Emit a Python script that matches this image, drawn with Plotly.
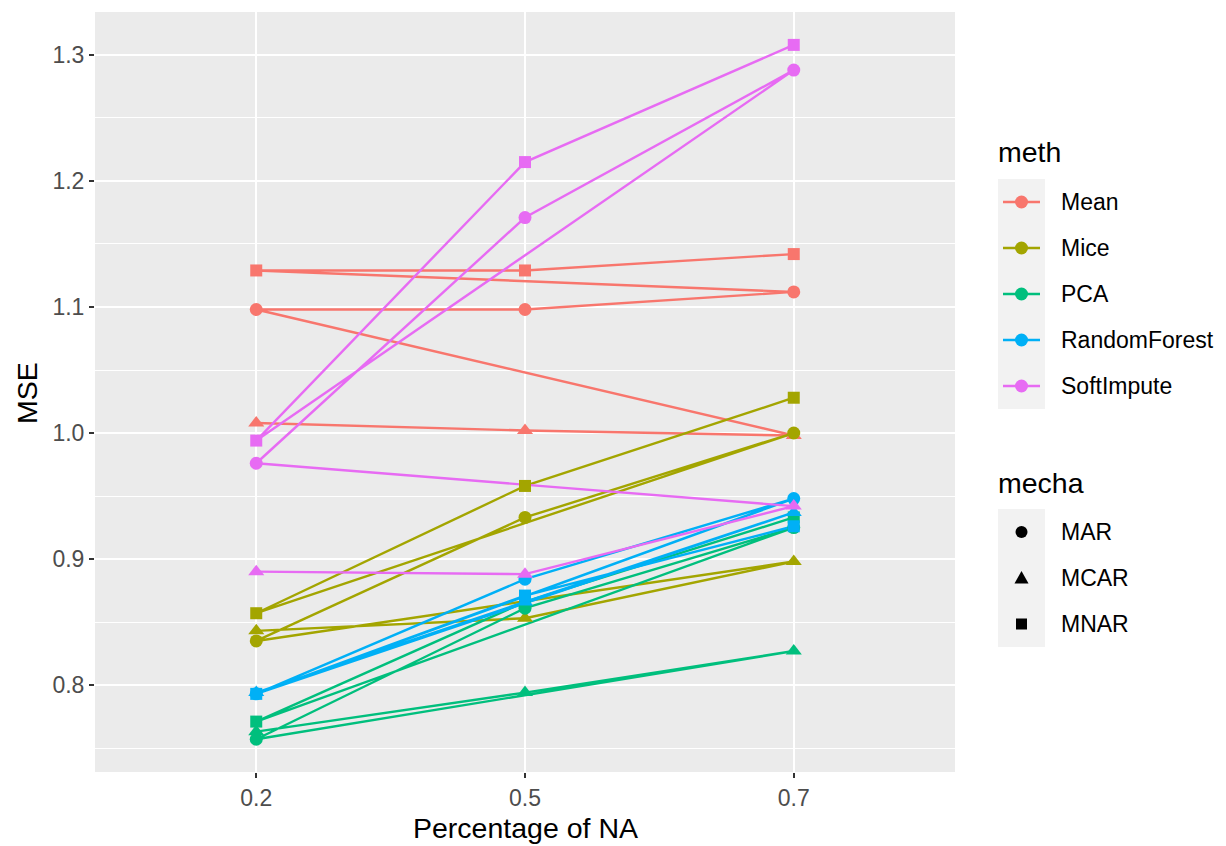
import plotly.graph_objects as go

# ---------------- data ----------------
pct = ["0.2", "0.5", "0.7"]
methods = ["Mean", "Mice", "PCA", "RandomForest", "SoftImpute"]
mechas = ["MAR", "MCAR", "MNAR"]
colors = ["#F8766D", "#A3A500", "#00BF7D", "#00B0F6", "#E76BF3"]
symbols = ["circle", "triangle-up", "square"]
path_order = ["MCAR", "MAR", "MNAR"]   # order in which each method's path visits the mechanisms

mean_mar = [1.098, 1.098, 1.112]
mean_mcar = [1.008, 1.002, 0.998]
mean_mnar = [1.129, 1.129, 1.142]

mice_mar = [0.835, 0.933, 1.000]
mice_mcar = [0.843, 0.853, 0.898]
mice_mnar = [0.857, 0.958, 1.028]

pca_mar = [0.757, 0.861, 0.925]
pca_mcar = [0.763, 0.794, 0.827]
pca_mnar = [0.771, 0.866, 0.933]

rf_mar = [0.793, 0.884, 0.948]
rf_mcar = [0.794, 0.866, 0.937]
rf_mnar = [0.793, 0.871, 0.926]

soft_mar = [0.976, 1.171, 1.288]
soft_mcar = [0.890, 0.888, 0.942]
soft_mnar = [0.994, 1.215, 1.308]

values = {
    "Mean": {"MAR": mean_mar, "MCAR": mean_mcar, "MNAR": mean_mnar},
    "Mice": {"MAR": mice_mar, "MCAR": mice_mcar, "MNAR": mice_mnar},
    "PCA": {"MAR": pca_mar, "MCAR": pca_mcar, "MNAR": pca_mnar},
    "RandomForest": {"MAR": rf_mar, "MCAR": rf_mcar, "MNAR": rf_mnar},
    "SoftImpute": {"MAR": soft_mar, "MCAR": soft_mcar, "MNAR": soft_mnar},
}

# ---------------- layout geometry ----------------
W, H = 1226, 846
PL, PR, PT, PB = 95, 955, 12, 772
FONT = "Liberation Sans, Arial, Helvetica, sans-serif"
TITLE_SIZE = 28.5
LABEL_SIZE = 23
marker_sizes = {"circle": 13, "triangle-up": 14, "square": 12}


def px(x):
    return x / W


def py(y):
    return 1 - y / H


fig = go.Figure()

# lines (one path per method)
for m, c in zip(methods, colors):
    xs, ys = [], []
    for mc in path_order:
        xs += pct
        ys += values[m][mc]
    fig.add_trace(go.Scatter(x=xs, y=ys, mode="lines",
                             line=dict(color=c, width=2.4),
                             showlegend=False, hoverinfo="skip"))

# points
for m, c in zip(methods, colors):
    for mc, s in zip(mechas, symbols):
        fig.add_trace(go.Scatter(x=pct, y=values[m][mc], mode="markers",
                                 marker=dict(color=c, symbol=s, size=marker_sizes[s],
                                             line=dict(width=0)),
                                 showlegend=False, name=f"{m} {mc}"))

shapes = []
annotations = []

# axis titles
annotations.append(dict(text="MSE", x=px(27), y=py(393), xref="paper", yref="paper",
                        xanchor="center", yanchor="middle",
                        showarrow=False, textangle=-90,
                        font=dict(family=FONT, size=TITLE_SIZE, color="black")))
annotations.append(dict(text="Percentage of NA", x=px(525), y=py(828), xref="paper", yref="paper",
                        xanchor="center", yanchor="middle",
                        showarrow=False, font=dict(family=FONT, size=TITLE_SIZE, color="black")))

# ---------------- manual legends ----------------
KX0, KX1 = 998, 1045
KC = (KX0 + KX1) / 2
LABX = 1059

# meth legend
annotations.append(dict(text="meth", x=px(996), y=py(152), xref="paper", yref="paper",
                        xanchor="left", yanchor="middle", showarrow=False,
                        font=dict(family=FONT, size=TITLE_SIZE, color="black")))
k0 = 179
kh = 46
shapes.append(dict(type="rect", xref="paper", yref="paper", x0=px(KX0), x1=px(KX1),
                   y0=py(k0), y1=py(k0 + kh * len(methods)),
                   fillcolor="#F2F2F2", line=dict(width=0), layer="above"))
for i, (m, c) in enumerate(zip(methods, colors)):
    cy = k0 + kh * i + kh / 2
    shapes.append(dict(type="line", xref="paper", yref="paper", x0=px(KX0 + 5), x1=px(KX1 - 5),
                       y0=py(cy), y1=py(cy), line=dict(color=c, width=2.4), layer="above"))
    r = 6.5
    shapes.append(dict(type="circle", xref="paper", yref="paper", x0=px(KC - r), x1=px(KC + r),
                       y0=py(cy - r), y1=py(cy + r), fillcolor=c, line=dict(width=0), layer="above"))
    annotations.append(dict(text=m, x=px(LABX), y=py(cy), xref="paper", yref="paper",
                            xanchor="left", yanchor="middle", showarrow=False,
                            font=dict(family=FONT, size=LABEL_SIZE, color="black")))

# mecha legend
annotations.append(dict(text="mecha", x=px(996), y=py(483), xref="paper", yref="paper",
                        xanchor="left", yanchor="middle", showarrow=False,
                        font=dict(family=FONT, size=TITLE_SIZE, color="black")))
k0b = 509
shapes.append(dict(type="rect", xref="paper", yref="paper", x0=px(KX0), x1=px(KX1),
                   y0=py(k0b), y1=py(k0b + kh * len(mechas)),
                   fillcolor="#F2F2F2", line=dict(width=0), layer="above"))
for i, (mc, s) in enumerate(zip(mechas, symbols)):
    cy = k0b + kh * i + kh / 2
    if s == "circle":
        r = 6
        shapes.append(dict(type="circle", xref="paper", yref="paper", x0=px(KC - r), x1=px(KC + r),
                           y0=py(cy - r), y1=py(cy + r), fillcolor="black", line=dict(width=0),
                           layer="above"))
    elif s == "square":
        r = 5.5
        shapes.append(dict(type="rect", xref="paper", yref="paper", x0=px(KC - r), x1=px(KC + r),
                           y0=py(cy - r), y1=py(cy + r), fillcolor="black", line=dict(width=0),
                           layer="above"))
    else:
        hw, top, bot = 7, cy - 7, cy + 5.5
        path = (f"M {px(KC - hw)} {py(bot)} L {px(KC + hw)} {py(bot)} "
                f"L {px(KC)} {py(top)} Z")
        shapes.append(dict(type="path", xref="paper", yref="paper", path=path,
                           fillcolor="black", line=dict(width=0), layer="above"))
    annotations.append(dict(text=mc, x=px(LABX), y=py(cy), xref="paper", yref="paper",
                            xanchor="left", yanchor="middle", showarrow=False,
                            font=dict(family=FONT, size=LABEL_SIZE, color="black")))

fig.update_layout(
    width=W, height=H,
    margin=dict(l=0, r=0, t=0, b=0),
    paper_bgcolor="white",
    plot_bgcolor="#EBEBEB",
    showlegend=False,
    shapes=shapes,
    annotations=annotations,
    xaxis=dict(domain=[px(PL), px(PR)], type="category", range=[-0.6, 2.6],
               categoryorder="array", categoryarray=pct,
               showgrid=True, gridcolor="white", gridwidth=2.2, zeroline=False,
               ticks="outside", ticklen=5, tickwidth=1.6, tickcolor="#333333",
               tickfont=dict(family=FONT, size=LABEL_SIZE, color="#4D4D4D"),
               showline=False, fixedrange=True),
    yaxis=dict(domain=[py(PB), py(PT)], range=[0.7310, 1.3341],
               tick0=0.8, dtick=0.1, tickformat=".1f",
               showgrid=True, gridcolor="white", gridwidth=2.2, zeroline=False,
               minor=dict(tick0=0.75, dtick=0.1, showgrid=True, gridcolor="white",
                          gridwidth=1.1, ticks=""),
               ticks="outside", ticklen=5, tickwidth=1.6, tickcolor="#333333",
               tickfont=dict(family=FONT, size=LABEL_SIZE, color="#4D4D4D"),
               showline=False, fixedrange=True),
)

fig.write_html("out.html")
